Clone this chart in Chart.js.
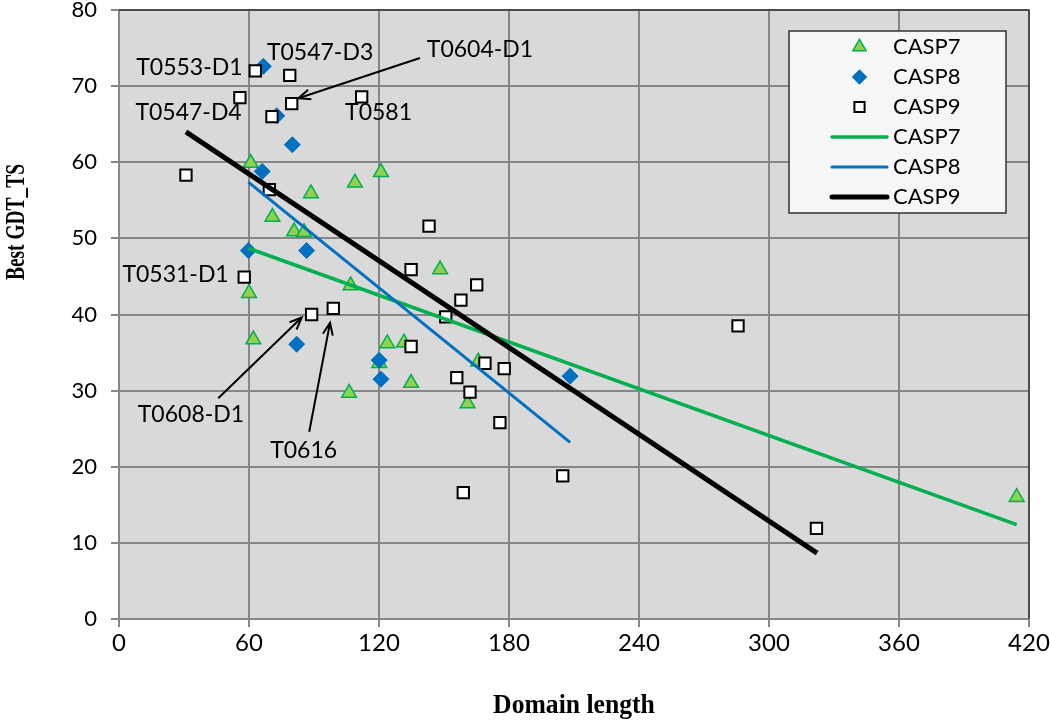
<!DOCTYPE html>
<html>
<head>
<meta charset="utf-8">
<script src="https://cdn.jsdelivr.net/npm/chart.js@4.4.1/dist/chart.umd.min.js"></script>
<style>
  html, body { margin: 0; padding: 0; background: #fff; }
  #wrap { width: 1050px; height: 721px; }
</style>
</head>
<body>
<div id="wrap"><canvas id="gdtChart"></canvas></div>
<script>
// points: [domain length, best GDT_TS]
const casp7Points = [
    [60.8, 59.9], [88.6, 55.9], [108.9, 57.3], [120.9, 58.7], [70.8, 52.8],
    [80.8, 50.9], [85.4, 50.8], [60.0, 42.8], [106.9, 43.8], [62.0, 36.7],
    [123.8, 36.2], [131.5, 36.3], [120.1, 33.6], [134.8, 31.0], [106.2, 29.7],
    [148.2, 45.9], [165.8, 33.8], [160.9, 28.3], [414.3, 16.0]
];
const casp8Points = [
    [66.6, 72.6], [72.8, 66.1], [80.0, 62.3], [66.1, 58.8], [59.7, 48.4],
    [86.6, 48.4], [82.0, 36.1], [120.1, 34.0], [120.9, 31.5], [208.2, 31.9]
];
const casp9Points = [
    [62.9, 72.0], [78.8, 71.4], [55.8, 68.5], [79.7, 67.7], [112.0, 68.6],
    [70.6, 66.0], [69.4, 56.4], [30.9, 58.3], [57.8, 44.9], [88.9, 40.0],
    [98.9, 40.8], [134.8, 35.8], [134.8, 45.9], [143.1, 51.6], [165.1, 43.9],
    [157.8, 41.9], [150.8, 39.7], [168.9, 33.6], [177.8, 32.9], [155.9, 31.7],
    [162.0, 29.8], [175.8, 25.8], [158.9, 16.6], [204.8, 18.8], [285.7, 38.5],
    [321.9, 11.9]
];

// linear trend lines (start, end)
const casp7Trend = [[59.7, 48.7], [414.3, 12.4]];
const casp8Trend = [[59.7, 57.4], [208.2, 23.2]];
const casp9Trend = [[30.9, 64.0], [322.2, 8.65]];

const xTicks = [0, 60, 120, 180, 240, 300, 360, 420];
const yTicks = [0, 10, 20, 30, 40, 50, 60, 70, 80];

// target labels, in data units
const targetLabels = [
    { text: 'T0553-D1', x: 32.5, y: 72.4 },
    { text: 'T0547-D3', x: 92.8, y: 74.4 },
    { text: 'T0604-D1', x: 166.6, y: 74.8 },
    { text: 'T0547-D4', x: 32.1, y: 66.5 },
    { text: 'T0581', x: 119.8, y: 66.5 },
    { text: 'T0531-D1', x: 26.1, y: 45.3 },
    { text: 'T0608-D1', x: 33.2, y: 26.8 },
    { text: 'T0616', x: 85.2, y: 22.1 }
];
const targetArrows = [
    { from: [138.9, 73.7], to: [82.8, 68.4] },
    { from: [45.8, 29.0], to: [84.3, 39.6] },
    { from: [87.8, 24.6], to: [97.4, 38.9] }
];

const toXY = arr => arr.map(p => ({ x: p[0], y: p[1] }));

const GREEN = '#00b050';
const BLUE = '#0070c0';

const plotDecor = {
    id: 'plotDecor',
    beforeDraw(chart) {
        const { ctx, chartArea: a } = chart;
        ctx.save();
        ctx.fillStyle = '#ffffff';
        ctx.fillRect(0, 0, chart.width, chart.height);
        ctx.fillStyle = '#d9d9d9';
        ctx.fillRect(a.left, a.top, a.right - a.left, a.bottom - a.top);
        ctx.restore();
    },
    afterDraw(chart) {
        const { ctx, chartArea: a } = chart;
        const xs = chart.scales.x, ys = chart.scales.y;
        const opts = chart.options.plugins.plotDecor;

        // frame top and right
        ctx.save();
        ctx.strokeStyle = '#3a3a3a';
        ctx.lineWidth = 1.5;
        ctx.beginPath();
        ctx.moveTo(a.left, a.top);
        ctx.lineTo(a.right, a.top);
        ctx.lineTo(a.right, a.bottom);
        ctx.stroke();

        // labels
        ctx.fillStyle = '#000';
        ctx.font = '23px Lato';
        ctx.textAlign = 'center';
        ctx.textBaseline = 'middle';
        targetLabels.forEach(l => {
            ctx.fillText(l.text, xs.getPixelForValue(l.x), ys.getPixelForValue(l.y));
        });

        // arrows
        ctx.strokeStyle = '#000';
        ctx.lineWidth = 2;
        targetArrows.forEach(ar => {
            const x1 = xs.getPixelForValue(ar.from[0]), y1 = ys.getPixelForValue(ar.from[1]);
            const x2 = xs.getPixelForValue(ar.to[0]), y2 = ys.getPixelForValue(ar.to[1]);
            const ang = Math.atan2(y2 - y1, x2 - x1);
            ctx.beginPath();
            ctx.moveTo(x1, y1);
            ctx.lineTo(x2, y2);
            ctx.stroke();
            ctx.beginPath();
            ctx.moveTo(x2 - 13 * Math.cos(ang - 0.4), y2 - 13 * Math.sin(ang - 0.4));
            ctx.lineTo(x2, y2);
            ctx.lineTo(x2 - 13 * Math.cos(ang + 0.4), y2 - 13 * Math.sin(ang + 0.4));
            ctx.stroke();
        });

        // axis titles (condensed bold serif, like the original)
        ctx.font = 'bold 27px "Liberation Serif"';
        ctx.save();
        ctx.translate((a.left + a.right) / 2, 706);
        ctx.scale(0.95, 1);
        ctx.fillText(opts.xTitle, 0, 0);
        ctx.restore();
        ctx.save();
        ctx.translate(17, 222);
        ctx.rotate(-Math.PI / 2);
        ctx.scale(0.72, 1);
        ctx.fillText(opts.yTitle, 0, 0);
        ctx.restore();

        // legend box
        const lg = opts.legend;
        ctx.fillStyle = '#f6f6f6';
        ctx.fillRect(lg.left, lg.top, lg.width, lg.height);
        ctx.strokeStyle = '#333';
        ctx.lineWidth = 1.5;
        ctx.strokeRect(lg.left, lg.top, lg.width, lg.height);
        chart.data.datasets.forEach((ds, i) => {
            const y = lg.top + lg.firstRow + i * lg.rowGap;
            if (ds.showLine) {
                ctx.strokeStyle = ds.borderColor;
                ctx.lineWidth = ds.borderWidth;
                ctx.lineCap = 'round';
                ctx.beginPath();
                ctx.moveTo(lg.lineStart, y);
                ctx.lineTo(lg.lineEnd, y);
                ctx.stroke();
            } else {
                ctx.fillStyle = ds.pointBackgroundColor;
                ctx.strokeStyle = ds.pointBorderColor;
                ctx.lineWidth = ds.pointBorderWidth;
                Chart.helpers.drawPoint(ctx, {
                    pointStyle: ds.pointStyle, rotation: 0,
                    radius: ds.pointRadius * 0.9, borderWidth: ds.pointBorderWidth
                }, (lg.lineStart + lg.lineEnd) / 2, y);
            }
            ctx.fillStyle = '#000';
            ctx.font = '22px Lato';
            ctx.textAlign = 'left';
            ctx.fillText(ds.label, lg.textX, y);
        });
        ctx.restore();
    }
};

const ctx = document.getElementById('gdtChart').getContext('2d');
const gdtChart = new Chart(ctx, {
    type: 'scatter',
    data: {
        datasets: [
            {
                label: 'CASP7',
                data: toXY(casp7Points),
                pointStyle: 'triangle',
                pointRadius: 8.5,
                pointBackgroundColor: '#92d050',
                pointBorderColor: GREEN,
                pointBorderWidth: 1.5,
                order: 6
            },
            {
                label: 'CASP8',
                data: toXY(casp8Points),
                pointStyle: 'rectRot',
                pointRadius: 8,
                pointBackgroundColor: BLUE,
                pointBorderColor: BLUE,
                pointBorderWidth: 1,
                order: 5
            },
            {
                label: 'CASP9',
                data: toXY(casp9Points),
                pointStyle: 'rect',
                pointRadius: 8,
                pointBackgroundColor: '#ffffff',
                pointBorderColor: '#000000',
                pointBorderWidth: 2,
                order: 4
            },
            {
                label: 'CASP7',
                data: toXY(casp7Trend),
                showLine: true,
                borderColor: GREEN,
                borderWidth: 3.5,
                pointRadius: 0,
                order: 3
            },
            {
                label: 'CASP8',
                data: toXY(casp8Trend),
                showLine: true,
                borderColor: BLUE,
                borderWidth: 3,
                pointRadius: 0,
                order: 2
            },
            {
                label: 'CASP9',
                data: toXY(casp9Trend),
                showLine: true,
                borderColor: '#000000',
                borderWidth: 5,
                pointRadius: 0,
                order: 1
            }
        ]
    },
    options: {
        responsive: true,
        maintainAspectRatio: false,
        animation: false,
        layout: { padding: { top: 9, right: 21, left: 0, bottom: 0 } },
        plugins: {
            legend: { display: false },
            tooltip: { enabled: false },
            plotDecor: {
                xTitle: 'Domain length',
                yTitle: 'Best GDT_TS',
                legend: {
                    left: 789, top: 31, width: 217, height: 182,
                    firstRow: 16, rowGap: 30,
                    lineStart: 832, lineEnd: 887, textX: 893
                }
            }
        },
        scales: {
            x: {
                type: 'linear',
                min: 0,
                max: 420,
                afterBuildTicks: s => { s.ticks = xTicks.map(v => ({ value: v })); },
                afterFit: s => { s.height = 102; s.paddingLeft = 0; s.paddingRight = 0; },
                ticks: { color: '#000', font: { family: '"Liberation Sans Narrow", Lato', size: 24 }, padding: 2 },
                grid: { color: '#868686', lineWidth: 2, tickLength: 8 },
                border: { color: '#868686', width: 2 }
            },
            y: {
                type: 'linear',
                min: 0,
                max: 80,
                afterBuildTicks: s => { s.ticks = yTicks.map(v => ({ value: v })); },
                afterFit: s => { s.width = 119; s.paddingTop = 0; s.paddingBottom = 0; },
                ticks: { color: '#000', font: { family: 'Lato', size: 22 }, padding: 14 },
                grid: { color: '#868686', lineWidth: 2, tickLength: 8 },
                border: { color: '#868686', width: 2 }
            }
        }
    },
    plugins: [plotDecor]
});
</script>
</body>
</html>
